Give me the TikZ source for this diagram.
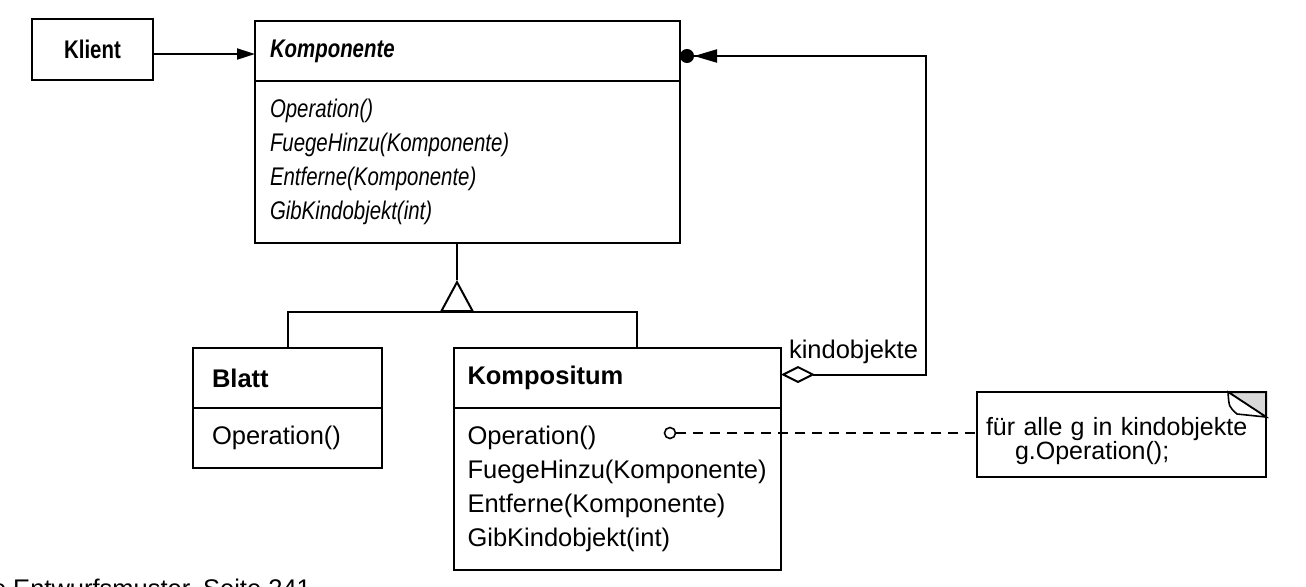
\documentclass[tikz,border=0pt]{standalone}
\usepackage{fontspec}
\setmainfont{Liberation Sans}
\newfontfamily\schmal[FakeStretch=0.8]{Liberation Sans}
\usetikzlibrary{positioning,arrows.meta,calc}

\newcommand{\topfont}{\schmal\fontsize{12.75}{17}\selectfont}
\newcommand{\lowfont}{\fontsize{12.75}{17}\selectfont}

\begin{document}
\begin{tikzpicture}[
    x=0.5pt, y=-0.5pt, line width=1pt,
    klasse/.style={rectangle, draw, anchor=north west, outer sep=0pt, inner xsep=7.5pt, inner ysep=0pt, align=left, minimum height=30pt},
    pfeil/.style={-{Triangle[length=9pt,width=5.5pt]}},
    vererb/.style={-{Triangle[open,length=16pt,width=17pt]}},
    aggr/.style={{Diamond[open,length=17pt,width=8.5pt]}-{Triangle[length=11.5pt,width=6.5pt] Circle[length=7pt]}}
]
    \useasboundingbox (0,0) rectangle (1306,586);
    \clip (0,0) rectangle (1306,586);

    \node[klasse, text width=45.5pt, align=center, minimum height=30.5pt, font=\topfont\bfseries] (klient) at (32,19) {Klient};
    \node[klasse, text width=197.5pt, font=\topfont\bfseries\itshape] (komp) at (255,21) {Komponente};
    \node[klasse, text width=197.5pt, minimum height=81pt, font=\topfont\itshape, below=0pt of komp] (kompops) {Operation()\\FuegeHinzu(Komponente)\\Entferne(Komponente)\\GibKindobjekt(int)};

    \node[klasse, text width=75.5pt, inner xsep=9.5pt, font=\lowfont\bfseries] (blatt) at (193,348) {Blatt};
    \node[klasse, text width=75.5pt, inner xsep=9.5pt, font=\lowfont, below=0pt of blatt] (blattops) {Operation()};

    \node[klasse, text width=150pt, inner xsep=6.75pt, font=\lowfont\bfseries] (kompos) at (454,348) {Kompositum};
    \node[klasse, text width=150pt, inner xsep=6.75pt, minimum height=81pt, font=\lowfont, below=0pt of kompos] (komposops) {Operation()\\FuegeHinzu(Komponente)\\Entferne(Komponente)\\GibKindobjekt(int)};

    \node[draw, anchor=north west, outer sep=0pt, inner xsep=4.5pt, inner ysep=5.9pt, text width=135.5pt, align=left, minimum height=42.5pt, font=\fontsize{12.5}{12}\selectfont] (notiz) at (977,392) {\rule{0pt}{16pt}für alle g in kindobjekte\\\hspace*{14.5pt}g.Operation();};
    % Eselsohr der Notiz
    \filldraw[fill=gray!30] ($(notiz.north east)+(-38,0)$) -- (notiz.north east) -- ($(notiz.north east)+(0,25)$) -- cycle;
    \filldraw[fill=white, line width=0.8pt] ($(notiz.north east)+(-38,0)$) .. controls ($(notiz.north east)+(-37,15)$) .. ($(notiz.north east)+(-29,22)$) -- ($(notiz.north east)+(0,25)$) -- cycle;

    \node[circle, draw, line width=0.8pt, inner sep=0pt, minimum size=5.5pt] (punkt) at (670,433) {};
    \node[anchor=base west, inner sep=0pt, font=\lowfont] (quelle) at (-9,597) {e Entwurfsmuster, Seite 241};

    \coordinate (spitze) at (457,280);
    \coordinate (gabel) at (457,312);
    \coordinate (rechts) at (637,312);
    \coordinate (ecke) at (926,56);

    \draw[pfeil] ([yshift=-2.25pt]klient.east) -- ([yshift=-2.25pt]klient.east -| komp.west);

    % Vererbung: Blatt und Kompositum
    \draw (spitze) -- (spitze |- kompops.south);
    \draw[vererb] (gabel) -- (spitze);
    \draw (blatt.north) |- (rechts) -- (rechts |- kompos.north);

    \draw[aggr] ([yshift=1.75pt]kompos.east) -| node[pos=0.25, above=5pt, inner sep=0pt, font=\lowfont] (rolle) {kindobjekte} (ecke) -- (ecke -| komp.east);

    \draw[dash pattern=on 5pt off 3.5pt] (punkt) -- (punkt -| notiz.west);
\end{tikzpicture}
\end{document}
